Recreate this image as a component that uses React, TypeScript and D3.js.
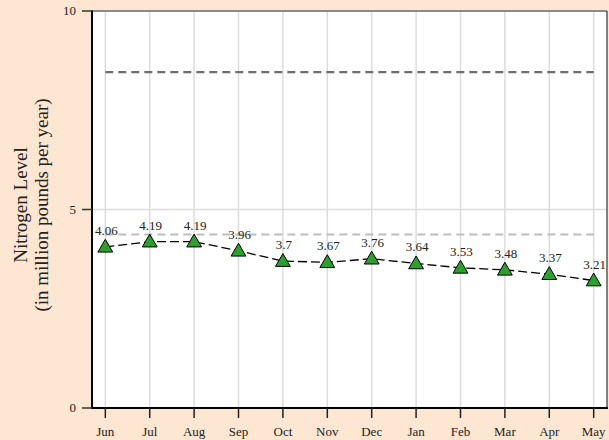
import React from "react";
import * as d3 from "d3";

const months = ["Jun", "Jul", "Aug", "Sep", "Oct", "Nov", "Dec", "Jan", "Feb", "Mar", "Apr", "May"];
const values = [4.06, 4.19, 4.19, 3.96, 3.7, 3.67, 3.76, 3.64, 3.53, 3.48, 3.37, 3.21];
const yTicks = [0, 5, 10];
const upperRef = 8.46;
const lowerRef = 4.37;

const W = 609;
const H = 440;
const M = { left: 92, right: 2, top: 11, bottom: 32 };
const FONT = "'Liberation Serif', 'DejaVu Serif', serif";

export default function App() {
  const x = d3.scalePoint<string>().domain(months).range([M.left, W - M.right]).padding(0.3);
  const y = d3.scaleLinear().domain([0, 10]).range([H - M.bottom, M.top]);
  const line = d3
    .line<number>()
    .x((_, i) => x(months[i])!)
    .y((d) => y(d));
  const tri = d3.symbol().type(d3.symbolTriangle).size(95)()!;
  const x0 = x(months[0])!;
  const x1 = x(months[months.length - 1])!;
  return (
    <svg width={W} height={H} style={{ position: "absolute", left: 0, top: 0 }}>
      <rect x={0} y={0} width={W} height={H} fill="#fde7d3" />
      <rect x={M.left} y={M.top} width={W - M.right - M.left} height={H - M.bottom - M.top} fill="#fff" />
      {months.map((m) => (
        <line key={m} x1={x(m)} x2={x(m)} y1={M.top} y2={H - M.bottom} stroke="#dcdcdc" strokeWidth={1.5} />
      ))}
      {yTicks.map((t) => (
        <line key={t} x1={M.left} x2={W - M.right} y1={y(t)} y2={y(t)} stroke="#dcdcdc" strokeWidth={1.5} />
      ))}
      <line x1={x0} x2={x1} y1={y(upperRef)} y2={y(upperRef)} stroke="#6e6e6e" strokeWidth={2.2} strokeDasharray="8,5" />
      <line x1={x0} x2={x1} y1={y(lowerRef)} y2={y(lowerRef)} stroke="#bdbdbd" strokeWidth={2.2} strokeDasharray="8,5" />
      {/* frame */}
      <line x1={M.left} x2={W - M.right} y1={M.top} y2={M.top} stroke="#333" strokeWidth={1.2} />
      <line x1={W - M.right} x2={W - M.right} y1={M.top} y2={H - M.bottom} stroke="#333" strokeWidth={1.2} />
      <line x1={M.left} x2={M.left} y1={M.top - 0.5} y2={H - M.bottom + 1} stroke="#000" strokeWidth={2} />
      <line x1={M.left - 1} x2={W - M.right + 1} y1={H - M.bottom} y2={H - M.bottom} stroke="#000" strokeWidth={2} />
      {/* y ticks */}
      {yTicks.map((t) => (
        <g key={t}>
          <line x1={M.left - 10} x2={M.left} y1={y(t)} y2={y(t)} stroke="#333" strokeWidth={1.5} />
          <text x={M.left - 16} y={y(t)} dy="0.32em" textAnchor="end" fontFamily={FONT} fontSize={13} fill="#222">
            {t}
          </text>
        </g>
      ))}
      {/* x ticks */}
      {months.map((m) => (
        <g key={m}>
          <line x1={x(m)} x2={x(m)} y1={H - M.bottom} y2={H - M.bottom + 10} stroke="#222" strokeWidth={1.5} />
          <text x={x(m)} y={H - M.bottom + 28} textAnchor="middle" fontFamily={FONT} fontSize={13} fill="#222">
            {m}
          </text>
        </g>
      ))}
      {/* y title */}
      <g transform={`translate(27, 205) rotate(-90)`}>
        <text x={0} y={0} textAnchor="middle" fontFamily={FONT} fontSize={19} fill="#222">
          Nitrogen Level
        </text>
        <text x={0} y={21} textAnchor="middle" fontFamily={FONT} fontSize={19} fill="#222">
          (in million pounds per year)
        </text>
      </g>
      <path d={line(values)!} fill="none" stroke="#000" strokeWidth={1.3} strokeDasharray="9,4" />
      {values.map((v, i) => (
        <path
          key={i}
          d={tri}
          transform={`translate(${x(months[i])}, ${y(v) + 1})`}
          fill="#2ca02c"
          stroke="#000"
          strokeWidth={1}
        />
      ))}
      {values.map((v, i) => (
        <text
          key={i}
          x={x(months[i])! + 1}
          y={y(v) - 12}
          textAnchor="middle"
          fontFamily={FONT}
          fontSize={13}
          fill="#222"
        >
          {String(v)}
        </text>
      ))}
    </svg>
  );
}
